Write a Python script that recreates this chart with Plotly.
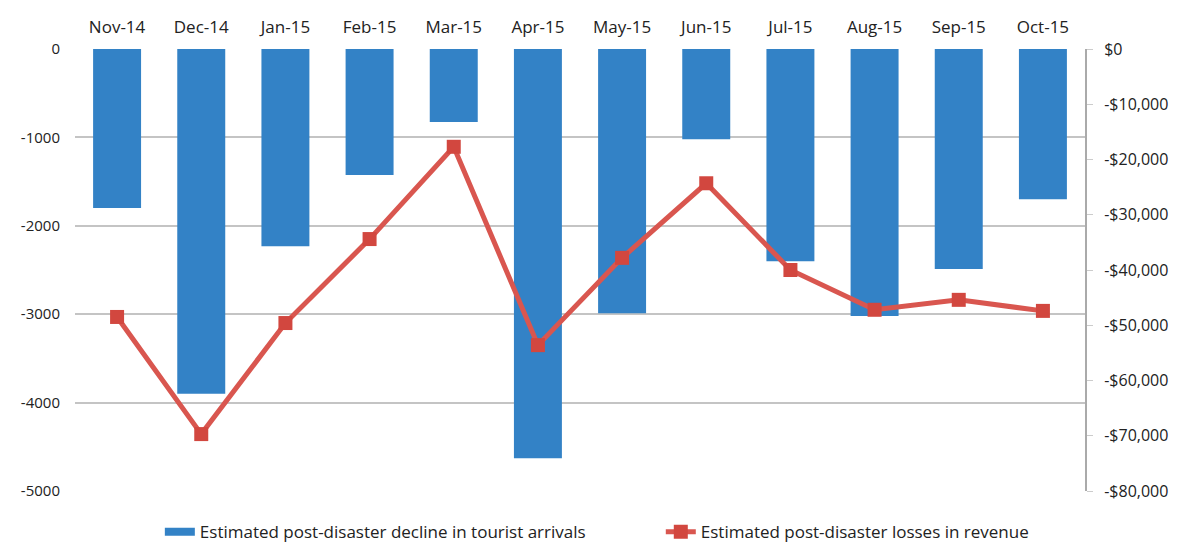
import plotly.graph_objects as go

months = ['Nov-14', 'Dec-14', 'Jan-15', 'Feb-15', 'Mar-15', 'Apr-15',
          'May-15', 'Jun-15', 'Jul-15', 'Aug-15', 'Sep-15', 'Oct-15']
arrivals = [-1800, -3900, -2230, -1425, -825, -4630,
            -2990, -1020, -2400, -3020, -2490, -1700]
revenue = [-48500, -69700, -49600, -34400, -17700, -53600,
           -37800, -24300, -40000, -47200, -45400, -47400]

left_ticks = [0, -1000, -2000, -3000, -4000, -5000]
left_labels = ['0', '-1000', '-2000', '-3000', '-4000', '-5000']
right_ticks = [0, -10000, -20000, -30000, -40000, -50000, -60000, -70000, -80000]
right_labels = ['$0', '-$10,000', '-$20,000', '-$30,000', '-$40,000',
                '-$50,000', '-$60,000', '-$70,000', '-$80,000']

font = 'Open Sans, sans-serif'
bar_color = '#3382c6'
txt = dict(size=17, color='#222')

fig = go.Figure()
fig.add_trace(go.Bar(x=months, y=arrivals, showlegend=False,
                     name='Estimated post-disaster decline in tourist arrivals',
                     marker=dict(color=bar_color, line=dict(width=0))))
# legend-only entry so the bar swatch is a wide strip like the original
fig.add_trace(go.Scatter(x=[None], y=[None], mode='lines', legend='legend',
                         name='Estimated post-disaster decline in tourist arrivals',
                         line=dict(color=bar_color, width=8)))
fig.add_trace(go.Scatter(x=months, y=revenue, yaxis='y2', mode='lines+markers',
                         legend='legend2',
                         name='Estimated post-disaster losses in revenue',
                         line=dict(color='#d9564f', width=5),
                         marker=dict(symbol='square', size=14, color='#d2473f')))

# page body has an 8px margin, so the margins are shifted to compensate
fig.update_layout(
    width=1181, height=545,
    margin=dict(l=67, r=104, t=41, b=62, autoexpand=False),
    plot_bgcolor='white', paper_bgcolor='white',
    font=dict(family=font, size=17, color='#222'),
    bargap=0.43,
    showlegend=True,
    legend=dict(orientation='h', x=0.084, xanchor='left', y=-0.093, yanchor='middle',
                font=txt, bgcolor='rgba(0,0,0,0)'),
    legend2=dict(orientation='h', x=0.58, xanchor='left', y=-0.093, yanchor='middle',
                 font=txt, bgcolor='rgba(0,0,0,0)'),
    xaxis=dict(side='top', showgrid=False, showline=False, ticks='',
               range=[-0.5, 11.5], automargin=False, ticklabelstandoff=12,
               tickfont=txt),
    yaxis=dict(range=[-5000, 0], tickvals=left_ticks, ticktext=left_labels,
               showgrid=True, gridcolor='#c4c4c4', gridwidth=2,
               zeroline=False, showline=False, ticks='', automargin=False,
               ticklabelstandoff=14, tickfont=dict(size=15, color='#222')),
    yaxis2=dict(range=[-80000, 0], tickvals=right_ticks, ticktext=right_labels,
                overlaying='y', side='right', showgrid=False, zeroline=False,
                showline=True, linecolor='#aaaaaa', linewidth=2,
                ticks='outside', ticklen=6, tickcolor='#cccccc', automargin=False,
                ticklabelstandoff=8, tickfont=dict(size=16, color='#222')),
)

fig.write_html('out.html')
